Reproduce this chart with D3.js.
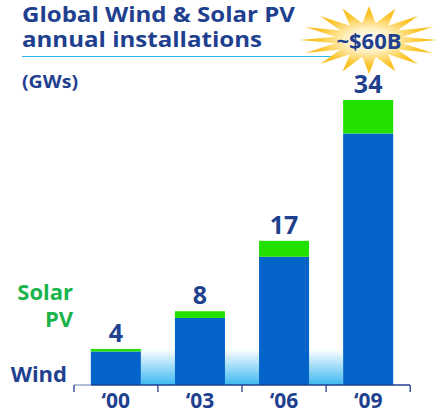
<!DOCTYPE html>
<html>
<head>
<meta charset="utf-8">
<script src="https://cdn.jsdelivr.net/npm/d3@7"></script>
<style>
  body { margin: 0; background: #fff; }
  svg { display: block; font-family: "Open Sans", sans-serif; font-weight: bold; }
</style>
</head>
<body>
<svg class="chart"></svg>
<script>
let width = 437,
  height = 415;

// data (GW)
let years = ["‘00", "‘03", "‘06", "‘09"];
let wind = [4.0, 8.0, 15.3, 30.0];
let solar = [0.3, 0.8, 1.9, 4.0];
let totals = ["4", "8", "17", "34"];

let navy = "#1f3f8f";

let svg = d3.select(".chart").attr("width", width).attr("height", height);

let x = d3.scaleBand().domain(years).range([74, 410]).paddingInner(0.405).paddingOuter(0.2);
let y = d3.scaleLinear().domain([0, 34]).range([385, 100]);

let defs = svg.append("defs");
let fade = defs.append("linearGradient").attr("id", "fade").attr("x1", 0).attr("y1", 0).attr("x2", 0).attr("y2", 1);
fade.append("stop").attr("offset", "0%").attr("stop-color", "#3db8f2").attr("stop-opacity", 0);
fade.append("stop").attr("offset", "100%").attr("stop-color", "#3db8f2").attr("stop-opacity", 1);

let burst = defs.append("radialGradient").attr("id", "burst");
burst.append("stop").attr("offset", "0%").attr("stop-color", "#ffffff");
burst.append("stop").attr("offset", "35%").attr("stop-color", "#fff0c0");
burst.append("stop").attr("offset", "75%").attr("stop-color", "#fbc52a");
burst.append("stop").attr("offset", "100%").attr("stop-color", "#f7b81c");

// title
svg.append("text").attr("x", 22).attr("y", 22).attr("fill", navy).attr("font-size", 22)
  .attr("textLength", 273).attr("lengthAdjust", "spacingAndGlyphs").text("Global Wind & Solar PV");
svg.append("text").attr("x", 22).attr("y", 47).attr("fill", navy).attr("font-size", 22)
  .attr("textLength", 240).attr("lengthAdjust", "spacingAndGlyphs").text("annual installations");
svg.append("line").attr("x1", 22).attr("x2", 340).attr("y1", 56.5).attr("y2", 56.5)
  .attr("stroke", "#2bb5ef").attr("stroke-width", 1.2);
svg.append("text").attr("x", 22).attr("y", 88).attr("fill", navy).attr("font-size", 17)
  .attr("textLength", 56).attr("lengthAdjust", "spacingAndGlyphs").text("(GWs)");

// starburst
let pts = [];
let n = 16;
for (let i = 0; i < n * 2; i++) {
  let a = (i / (n * 2)) * 2 * Math.PI - Math.PI / 2;
  let r = i % 2 == 0 ? 1 : 0.5;
  pts.push([369 + Math.cos(a) * 69 * r, 40 + Math.sin(a) * 34 * r]);
}
svg.append("path").attr("d", d3.line()(pts) + "Z").attr("fill", "url(#burst)");
svg.append("text").attr("x", 369).attr("y", 49).attr("text-anchor", "middle")
  .attr("fill", navy).attr("font-size", 22).attr("textLength", 65).text("~$60B");

// gradient fills between bars
let gaps = years.slice(1);
svg.selectAll(".gap").data(gaps).enter().append("rect")
  .attr("class", "gap")
  .attr("x", (d, i) => x(years[i]) + x.bandwidth())
  .attr("width", (d) => x(d) - x(years[years.indexOf(d) - 1]) - x.bandwidth())
  .attr("y", 349).attr("height", y(0) - 349)
  .attr("fill", "url(#fade)");

// bars
svg.selectAll(".wind").data(years).enter().append("rect")
  .attr("class", "wind")
  .attr("x", (d) => x(d)).attr("width", x.bandwidth())
  .attr("y", (d, i) => y(wind[i])).attr("height", (d, i) => y(0) - y(wind[i]))
  .attr("fill", "#0564c9");
svg.selectAll(".solar").data(years).enter().append("rect")
  .attr("class", "solar")
  .attr("x", (d) => x(d)).attr("width", x.bandwidth())
  .attr("y", (d, i) => y(wind[i] + solar[i])).attr("height", (d, i) => y(wind[i]) - y(wind[i] + solar[i]))
  .attr("fill", "#22e000");

svg.selectAll(".total").data(years).enter().append("text")
  .attr("class", "total")
  .attr("x", (d) => x(d) + x.bandwidth() / 2)
  .attr("y", (d, i) => y(wind[i] + solar[i]) - 7)
  .attr("text-anchor", "middle").attr("fill", navy).attr("font-size", 25)
  .text((d, i) => totals[i]);

// axis
let axis = svg.append("g").attr("transform", "translate(0," + y(0) + ")")
  .call(d3.axisBottom(x).tickSize(0).tickPadding(0));
axis.select(".domain").remove();
axis.selectAll("text").attr("font-size", 21).attr("fill", navy).attr("dy", 0).attr("y", 23)
  .attr("font-family", "Open Sans, sans-serif").attr("font-weight", "bold");
axis.append("line").attr("x1", 74).attr("x2", 91).attr("stroke", "#8a9cc4").attr("stroke-width", 1.3);
axis.append("line").attr("x1", 91).attr("x2", 410).attr("stroke", navy).attr("stroke-width", 1.3);
let edges = [74].concat(years.map((d) => x(d) + x.bandwidth() + (x.step() - x.bandwidth()) / 2));
axis.selectAll(".edge").data(edges).enter().append("line")
  .attr("class", "edge").attr("x1", (d) => d).attr("x2", (d) => d)
  .attr("y1", 0).attr("y2", 7).attr("stroke", navy).attr("stroke-width", 1.3);

// legend labels
svg.append("text").attr("x", 73).attr("y", 300).attr("text-anchor", "end").attr("fill", "#1bb34b").attr("font-size", 22).text("Solar");
svg.append("text").attr("x", 73).attr("y", 327).attr("text-anchor", "end").attr("fill", "#1bb34b").attr("font-size", 22).text("PV");
svg.append("text").attr("x", 67).attr("y", 382).attr("text-anchor", "end").attr("fill", navy).attr("font-size", 22).text("Wind");
</script>
</body>
</html>
